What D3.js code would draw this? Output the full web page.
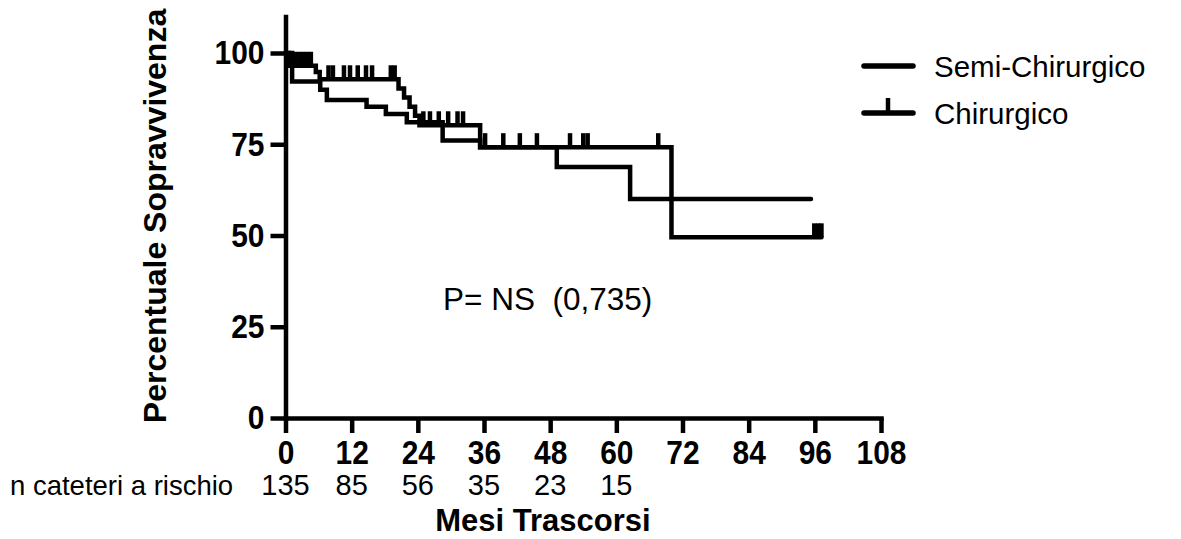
<!DOCTYPE html>
<html>
<head>
<meta charset="utf-8">
<script src="https://cdn.jsdelivr.net/npm/d3@7"></script>
<style>
  body { margin: 0; background: #fff; }
  svg { display: block; font-family: "Liberation Sans", Arial, Helvetica, sans-serif; }
  .axis path, .axis line { stroke: #000; stroke-width: 4.5; }
  .axis text { font-size: 34px; font-weight: bold; fill: #000; font-family: "Liberation Sans", Arial, sans-serif; }
  .km-line { fill: none; stroke: #000; stroke-width: 4.5; stroke-linejoin: miter; stroke-linecap: round; }
  .censor { stroke: #000; stroke-width: 4.5; }
</style>
</head>
<body>
<svg id="chart" width="1181" height="539"></svg>
<script>
// Semi-Chirurgico: months where the curve steps, and survival (%) after the step
const semiTimes = [0, 1.2, 6.3, 7.5, 14.7, 18.2, 22, 28.5, 35.3, 49.2, 62.5];
const semiSurv  = [100, 92.2, 89.9, 87.1, 85.3, 83.3, 81, 76, 74.2, 68.8, 60];
const semiLast  = 95.3;

// Chirurgico
const chirTimes = [0, 0.6, 5.5, 6.2, 20.5, 21.5, 22.5, 23.5, 24.3, 35.3, 70];
const chirSurv  = [100, 96.5, 94.8, 92.8, 90.3, 87.8, 85.3, 82.8, 80.2, 74.2, 49.5];
const chirLast  = 97.2;
// censored catheters (months)
const chirCensored = [1.1, 1.8, 2.5, 3.2, 3.9, 4.6, 7.8, 8.6, 10.6, 11.7, 13.1, 14.6, 15.7,
  19.1, 19.8, 25, 26.2, 27.8, 29.5, 31.2, 32.2, 36.2, 39.5, 42.5, 45.6, 51.6, 54, 54.8, 67.6,
  95.9, 96.6, 97.2];

// numbers at risk
const riskMonths = [0, 12, 24, 36, 48, 60];
const riskCounts = [135, 85, 56, 35, 23, 15];

const xTicks = [0, 12, 24, 36, 48, 60, 72, 84, 96, 108];
const yTicks = [0, 25, 50, 75, 100];

const legendNames = ["Semi-Chirurgico", "Chirurgico"];
const pValueText = "P= NS  (0,735)";

class SurvivalChart {

    constructor(_config) {
        this.config = {
            parentElement: _config.parentElement,
            x0: 285.5, x1: 881,
            yBottom: 418, yTop: 16.5,
            squeeze: 0.88 // tick labels are a narrow bold face
        };
        this.initVis();
    }

    initVis() {
        let vis = this;

        vis.svg = d3.select(vis.config.parentElement);

        vis.xScale = d3.scaleLinear().domain([0, 108]).range([vis.config.x0, vis.config.x1]);
        vis.yScale = d3.scaleLinear().domain([0, 110]).range([vis.config.yBottom, vis.config.yTop]);

        vis.xAxis = d3.axisBottom(vis.xScale).tickValues(xTicks).tickSize(15).tickSizeOuter(0).tickPadding(7);
        vis.yAxis = d3.axisLeft(vis.yScale).tickValues(yTicks).tickSize(15).tickSizeOuter(0).tickPadding(6);

        vis.line = d3.line()
            .x(d => vis.xScale(d[0]))
            .y(d => vis.yScale(d[1]))
            .curve(d3.curveStepAfter);

        vis.renderVis();
    }

    // survival value of a step curve at time t
    survAt(times, surv, t) {
        const i = d3.bisectRight(times, t) - 1;
        return surv[Math.max(0, i)];
    }

    renderVis() {
        let vis = this;
        const sq = vis.config.squeeze;

        // Axes
        vis.svg.append('g')
            .attr('class', 'axis x-axis')
            .attr('transform', `translate(0,${vis.config.yBottom})`)
            .call(vis.xAxis)
            .call(g => g.select('.domain').attr('stroke-linecap', 'square'))
            .call(g => g.selectAll('.tick text').attr('transform', `scale(${sq},1)`));

        vis.svg.append('g')
            .attr('class', 'axis y-axis')
            .attr('transform', `translate(${vis.config.x0},0)`)
            .call(vis.yAxis)
            .call(g => g.select('.domain').attr('stroke-linecap', 'square'))
            .call(g => g.selectAll('.tick text')
                .attr('x', -21 / sq)
                .attr('transform', `scale(${sq},1)`));

        // Kaplan-Meier curves
        const semiPts = semiTimes.map((t, i) => [t, semiSurv[i]]);
        semiPts.push([semiLast, semiSurv[semiSurv.length - 1]]);
        const chirPts = chirTimes.map((t, i) => [t, chirSurv[i]]);
        chirPts.push([chirLast, chirSurv[chirSurv.length - 1]]);

        vis.svg.append('path').attr('class', 'km-line').datum(semiPts).attr('d', vis.line);
        vis.svg.append('path').attr('class', 'km-line').datum(chirPts).attr('d', vis.line);

        // Censor marks
        vis.svg.append('g').selectAll('line')
            .data(chirCensored)
            .join('line')
            .attr('class', 'censor')
            .attr('x1', d => vis.xScale(d))
            .attr('x2', d => vis.xScale(d))
            .attr('y1', d => vis.yScale(vis.survAt(chirTimes, chirSurv, d)))
            .attr('y2', d => vis.yScale(vis.survAt(chirTimes, chirSurv, d)) - 14);

        // Axis titles
        vis.svg.append('text')
            .attr('transform', 'translate(166,216) rotate(-90)')
            .attr('text-anchor', 'middle')
            .style('font-size', '32px')
            .style('font-weight', 'bold')
            .text('Percentuale Sopravvivenza');

        vis.svg.append('text')
            .attr('x', 543).attr('y', 531)
            .attr('text-anchor', 'middle')
            .style('font-size', '31px')
            .style('font-weight', 'bold')
            .text('Mesi Trascorsi');

        // Numbers at risk
        vis.svg.append('text')
            .attr('x', 10).attr('y', 495)
            .style('font-size', '27.5px')
            .text('n cateteri a rischio');

        vis.svg.append('g').selectAll('text')
            .data(riskMonths)
            .join('text')
            .attr('x', d => vis.xScale(d))
            .attr('y', 495)
            .attr('text-anchor', 'middle')
            .style('font-size', '29px')
            .text((d, i) => riskCounts[i]);

        // p-value
        vis.svg.append('text')
            .attr('x', 443).attr('y', 310)
            .style('font-size', '31.5px')
            .style('white-space', 'pre')
            .text(pValueText);

        // Legend
        const legend = vis.svg.append('g').attr('class', 'legend');
        legendNames.forEach((name, i) => {
            const ly = 66 + i * 47;
            legend.append('line')
                .attr('x1', 864).attr('x2', 913)
                .attr('y1', ly).attr('y2', ly)
                .attr('stroke', '#000').attr('stroke-width', 5.5).attr('stroke-linecap', 'round');
            if (i === 1) {
                legend.append('line')
                    .attr('x1', 888).attr('x2', 888)
                    .attr('y1', ly).attr('y2', ly - 15)
                    .attr('stroke', '#000').attr('stroke-width', 4.5);
            }
            legend.append('text')
                .attr('x', 934).attr('y', ly + 11)
                .style('font-size', '29.5px')
                .text(name);
        });
    }
}

new SurvivalChart({ parentElement: '#chart' });
</script>
</body>
</html>
